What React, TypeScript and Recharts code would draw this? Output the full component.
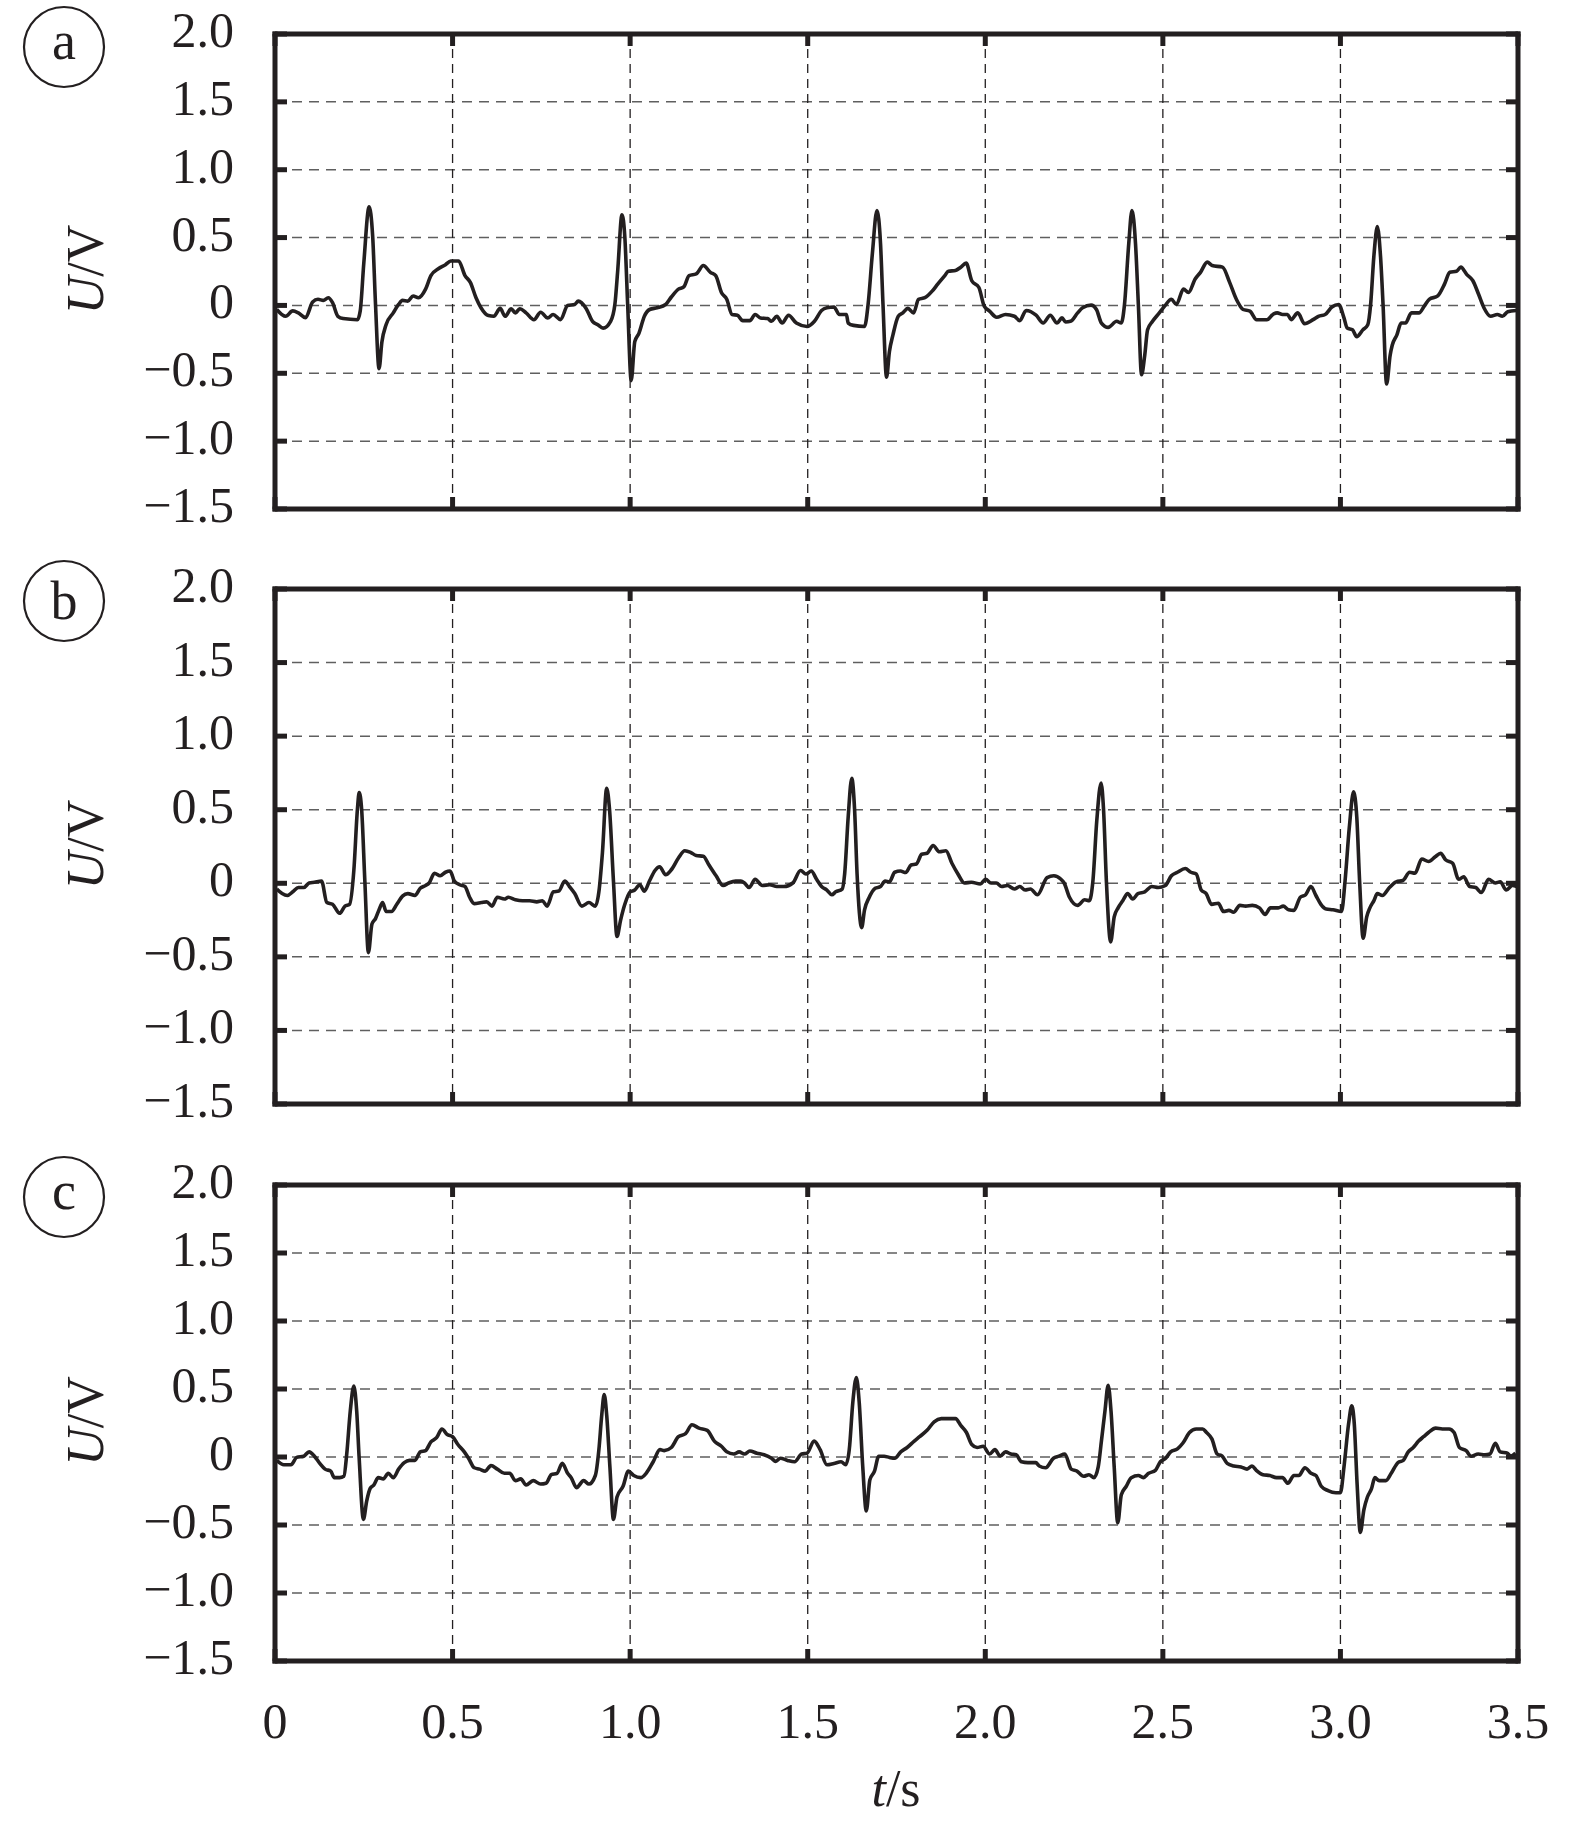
import React from 'react';
import { LineChart, Line, XAxis, YAxis, CartesianGrid } from 'recharts';

const xTicks = [0, 0.5, 1.0, 1.5, 2.0, 2.5, 3.0, 3.5];
const xTickLabels = ['0', '0.5', '1.0', '1.5', '2.0', '2.5', '3.0', '3.5'];
const yTicks = [-1.5, -1.0, -0.5, 0, 0.5, 1.0, 1.5, 2.0];
const yTickLabels = ['\u22121.5', '\u22121.0', '\u22120.5', '0', '0.5', '1.0', '1.5', '2.0'];
const panelLetters = ['a', 'b', 'c'];
const xAxisTitle = ['t', '/s'];
const yAxisTitle = ['U', '/V'];

const timeA = [0.005,0.03,0.05,0.066,0.086,0.106,0.121,0.136,0.15,0.162,0.177,0.192,0.232,0.24,0.25,0.265,0.275,0.283,0.293,0.301,0.313,0.333,0.348,0.359,0.374,0.389,0.404,0.424,0.439,0.46,0.48,0.495,0.517,0.535,0.55,0.566,0.58,0.601,0.616,0.634,0.648,0.665,0.677,0.689,0.707,0.729,0.748,0.768,0.783,0.804,0.824,0.844,0.854,0.876,0.894,0.909,0.924,0.945,0.957,0.965,0.977,0.985,0.993,1.003,1.013,1.025,1.04,1.055,1.076,1.1,1.116,1.136,1.151,1.166,1.186,1.206,1.226,1.241,1.257,1.272,1.287,1.302,1.317,1.337,1.352,1.367,1.387,1.398,1.413,1.428,1.446,1.468,1.498,1.519,1.539,1.554,1.574,1.589,1.609,1.614,1.629,1.66,1.67,1.682,1.695,1.705,1.712,1.722,1.73,1.74,1.755,1.768,1.782,1.798,1.812,1.83,1.851,1.866,1.886,1.896,1.916,1.931,1.946,1.962,1.982,1.997,2.012,2.032,2.057,2.082,2.097,2.115,2.143,2.163,2.183,2.202,2.216,2.226,2.24,2.26,2.274,2.298,2.313,2.327,2.346,2.37,2.383,2.392,2.404,2.413,2.423,2.431,2.44,2.449,2.457,2.471,2.49,2.505,2.524,2.538,2.558,2.572,2.591,2.606,2.625,2.639,2.668,2.688,2.707,2.726,2.745,2.764,2.793,2.812,2.822,2.837,2.851,2.861,2.88,2.899,2.923,2.938,2.957,2.976,2.995,3.01,3.019,3.034,3.046,3.063,3.077,3.085,3.094,3.104,3.113,3.12,3.13,3.14,3.146,3.159,3.171,3.183,3.2,3.221,3.236,3.25,3.274,3.293,3.308,3.327,3.339,3.356,3.373,3.389,3.404,3.423,3.442,3.456,3.471,3.495];
const voltA = [-0.03,-0.08,-0.04,-0.055,-0.09,0.025,0.045,0.037,0.057,0.02,-0.08,-0.097,-0.105,-0.04,0.31,0.726,0.51,0.01,-0.466,-0.27,-0.14,-0.055,0.007,0.037,0.032,0.07,0.057,0.12,0.22,0.27,0.3,0.327,0.327,0.22,0.17,0.057,-0.017,-0.075,-0.08,-0.022,-0.08,-0.025,-0.055,-0.025,-0.055,-0.105,-0.05,-0.092,-0.067,-0.105,0,0.007,0.032,-0.022,-0.117,-0.142,-0.167,-0.117,0.007,0.257,0.668,0.506,0.007,-0.554,-0.267,-0.204,-0.08,-0.03,-0.017,0.007,0.062,0.12,0.137,0.22,0.232,0.294,0.244,0.22,0.095,0.045,-0.067,-0.072,-0.112,-0.112,-0.067,-0.092,-0.097,-0.117,-0.08,-0.13,-0.072,-0.13,-0.155,-0.117,-0.037,-0.017,-0.012,-0.067,-0.067,-0.13,-0.147,-0.155,0.007,0.38,0.7,0.456,0.007,-0.529,-0.342,-0.217,-0.08,-0.055,-0.022,-0.055,0.045,0.057,0.107,0.157,0.22,0.252,0.257,0.282,0.312,0.182,0.132,-0.005,-0.042,-0.087,-0.067,-0.08,-0.112,-0.037,-0.072,-0.13,-0.072,-0.13,-0.092,-0.122,-0.117,-0.055,-0.017,0.002,-0.03,-0.13,-0.162,-0.117,-0.13,0.007,0.456,0.7,0.456,0.007,-0.511,-0.367,-0.18,-0.117,-0.055,-0.005,0.045,0.007,0.12,0.095,0.195,0.244,0.319,0.294,0.282,0.17,0.045,-0.03,-0.042,-0.105,-0.105,-0.062,-0.055,-0.067,-0.067,-0.105,-0.055,-0.135,-0.105,-0.08,-0.067,-0.012,0.007,-0.092,-0.167,-0.18,-0.23,-0.18,-0.142,0.007,0.357,0.581,0.357,0.007,-0.579,-0.367,-0.292,-0.217,-0.13,-0.13,-0.055,-0.055,-0.005,0.045,0.07,0.157,0.244,0.252,0.282,0.227,0.182,0.082,-0.017,-0.08,-0.067,-0.08,-0.047,-0.037];

const timeB = [0.005,0.02,0.035,0.05,0.066,0.081,0.096,0.111,0.131,0.146,0.162,0.182,0.197,0.21,0.222,0.232,0.237,0.244,0.253,0.263,0.273,0.283,0.293,0.303,0.313,0.328,0.343,0.359,0.374,0.394,0.409,0.424,0.434,0.449,0.465,0.48,0.493,0.505,0.52,0.535,0.548,0.561,0.581,0.596,0.611,0.626,0.646,0.657,0.677,0.697,0.717,0.737,0.753,0.766,0.784,0.799,0.816,0.829,0.844,0.864,0.884,0.902,0.912,0.922,0.934,0.942,0.953,0.963,0.973,0.985,1.0,1.013,1.027,1.04,1.055,1.07,1.083,1.1,1.116,1.136,1.154,1.171,1.186,1.206,1.222,1.242,1.262,1.277,1.297,1.312,1.322,1.335,1.352,1.372,1.393,1.413,1.433,1.458,1.48,1.495,1.51,1.525,1.539,1.554,1.568,1.579,1.597,1.604,1.614,1.624,1.632,1.639,1.652,1.66,1.672,1.69,1.705,1.718,1.73,1.745,1.761,1.776,1.791,1.806,1.821,1.836,1.853,1.871,1.889,1.906,1.923,1.941,1.961,1.986,2.001,2.016,2.031,2.046,2.062,2.082,2.097,2.112,2.127,2.147,2.174,2.193,2.213,2.222,2.237,2.26,2.28,2.293,2.303,2.314,2.326,2.333,2.341,2.353,2.363,2.374,2.387,2.401,2.415,2.43,2.449,2.469,2.487,2.507,2.524,2.541,2.563,2.579,2.594,2.608,2.622,2.637,2.656,2.671,2.686,2.699,2.717,2.733,2.752,2.772,2.788,2.803,2.825,2.839,2.854,2.869,2.887,2.902,2.917,2.931,2.945,2.96,2.979,3.003,3.013,3.025,3.037,3.046,3.054,3.064,3.074,3.083,3.094,3.104,3.118,3.138,3.157,3.176,3.195,3.21,3.229,3.248,3.267,3.282,3.296,3.316,3.333,3.347,3.364,3.381,3.397,3.417,3.436,3.45,3.467,3.484,3.497];
const voltB = [-0.039,-0.07,-0.083,-0.058,-0.029,-0.029,0.002,0.007,0.015,-0.131,-0.143,-0.204,-0.155,-0.143,0.087,0.5,0.617,0.5,0.015,-0.471,-0.277,-0.24,-0.18,-0.131,-0.192,-0.192,-0.143,-0.087,-0.07,-0.083,-0.034,-0.015,0.002,0.068,0.051,0.075,0.083,0.015,-0.01,-0.022,-0.095,-0.138,-0.131,-0.126,-0.155,-0.095,-0.107,-0.095,-0.112,-0.119,-0.119,-0.126,-0.119,-0.155,-0.058,-0.053,0.015,-0.022,-0.07,-0.155,-0.131,-0.155,-0.058,0.209,0.646,0.5,0.015,-0.362,-0.252,-0.143,-0.058,-0.046,-0.01,-0.053,0.019,0.087,0.112,0.058,0.092,0.172,0.221,0.209,0.189,0.184,0.124,0.051,-0.015,0.002,0.015,0.015,0.002,-0.029,0.027,-0.015,-0.01,-0.022,-0.022,0.002,0.087,0.063,0.083,0.027,-0.022,-0.046,-0.078,-0.058,-0.039,0.063,0.451,0.714,0.5,0.063,-0.301,-0.18,-0.102,-0.034,-0.022,0.015,0.01,0.075,0.083,0.073,0.124,0.131,0.197,0.204,0.257,0.214,0.221,0.136,0.063,0.002,0.007,-0.005,0.027,0.002,0.002,-0.022,-0.015,-0.039,-0.022,-0.046,-0.039,-0.078,0.039,0.051,0.027,0.002,-0.095,-0.15,-0.112,-0.119,0.015,0.427,0.682,0.5,0.015,-0.398,-0.228,-0.167,-0.119,-0.07,-0.107,-0.07,-0.058,-0.022,-0.029,-0.015,0.051,0.075,0.1,0.075,0.063,-0.046,-0.07,-0.143,-0.136,-0.192,-0.184,-0.197,-0.15,-0.155,-0.15,-0.167,-0.211,-0.167,-0.167,-0.155,-0.18,-0.184,-0.095,-0.078,-0.022,-0.083,-0.143,-0.175,-0.18,-0.192,0.015,0.379,0.621,0.451,0.015,-0.374,-0.228,-0.167,-0.119,-0.07,-0.083,-0.029,0.01,0.019,0.075,0.068,0.165,0.148,0.18,0.204,0.16,0.136,0.027,0.044,-0.022,-0.029,-0.063,0.027,0.002,0.01,-0.046,-0.015,-0.022];

const timeC = [0.005,0.025,0.045,0.061,0.081,0.096,0.111,0.126,0.141,0.157,0.167,0.182,0.194,0.202,0.212,0.222,0.23,0.237,0.249,0.258,0.268,0.278,0.291,0.305,0.319,0.333,0.348,0.364,0.379,0.394,0.409,0.424,0.439,0.455,0.47,0.485,0.5,0.515,0.533,0.545,0.561,0.576,0.592,0.608,0.626,0.646,0.661,0.677,0.692,0.707,0.727,0.748,0.763,0.778,0.794,0.809,0.824,0.834,0.849,0.869,0.884,0.902,0.912,0.92,0.927,0.934,0.943,0.953,0.963,0.98,0.995,1.01,1.03,1.045,1.065,1.084,1.096,1.116,1.136,1.156,1.174,1.194,1.217,1.237,1.257,1.272,1.292,1.307,1.322,1.337,1.357,1.377,1.398,1.41,1.423,1.443,1.463,1.483,1.498,1.518,1.535,1.554,1.574,1.594,1.607,1.617,1.627,1.637,1.645,1.655,1.665,1.675,1.688,1.7,1.715,1.73,1.745,1.762,1.78,1.8,1.815,1.836,1.856,1.876,1.896,1.916,1.932,1.947,1.962,1.977,1.994,2.012,2.027,2.042,2.057,2.072,2.087,2.102,2.12,2.142,2.152,2.17,2.192,2.207,2.224,2.242,2.258,2.277,2.292,2.306,2.318,2.327,2.337,2.346,2.354,2.363,2.373,2.383,2.397,2.411,2.431,2.445,2.46,2.479,2.493,2.508,2.522,2.541,2.556,2.575,2.594,2.612,2.623,2.638,2.653,2.667,2.681,2.7,2.72,2.737,2.751,2.763,2.782,2.801,2.82,2.837,2.852,2.869,2.883,2.9,2.917,2.931,2.946,2.965,2.987,3.0,3.01,3.023,3.032,3.039,3.047,3.056,3.066,3.076,3.087,3.097,3.109,3.128,3.143,3.162,3.177,3.191,3.205,3.22,3.234,3.248,3.268,3.287,3.306,3.32,3.335,3.354,3.368,3.388,3.407,3.421,3.436,3.45,3.47,3.479,3.493];
const voltC = [-0.025,-0.057,-0.057,-0.003,0.006,0.038,0.006,-0.047,-0.089,-0.104,-0.152,-0.152,-0.142,0.022,0.339,0.522,0.339,-0.009,-0.459,-0.326,-0.231,-0.206,-0.152,-0.161,-0.12,-0.152,-0.089,-0.041,-0.025,-0.025,0.038,0.047,0.111,0.142,0.206,0.165,0.149,0.092,0.038,-0.009,-0.079,-0.089,-0.104,-0.063,-0.089,-0.12,-0.12,-0.174,-0.161,-0.206,-0.174,-0.199,-0.193,-0.13,-0.12,-0.047,-0.12,-0.152,-0.225,-0.174,-0.199,-0.136,0.054,0.307,0.459,0.307,-0.073,-0.459,-0.294,-0.215,-0.104,-0.136,-0.152,-0.12,-0.035,0.054,0.047,0.07,0.149,0.171,0.237,0.212,0.196,0.117,0.079,0.038,0.022,0.038,0.022,0.044,0.028,0.016,-0.009,-0.032,-0.009,-0.025,-0.035,0.022,0.028,0.117,0.054,-0.057,-0.047,-0.035,-0.057,0.054,0.402,0.585,0.402,-0.073,-0.396,-0.168,-0.104,0.006,0.006,-0.003,-0.009,0.038,0.07,0.117,0.149,0.196,0.259,0.282,0.282,0.282,0.228,0.18,0.092,0.07,0.079,0.022,0.054,0.006,0.038,0.022,0.016,-0.035,-0.041,-0.041,-0.066,-0.079,-0.009,0.006,0.022,-0.089,-0.104,-0.142,-0.13,-0.152,-0.073,0.117,0.339,0.528,0.339,-0.073,-0.484,-0.278,-0.215,-0.152,-0.136,-0.152,-0.12,-0.098,-0.035,-0.009,0.038,0.06,0.101,0.18,0.206,0.206,0.18,0.133,0.022,0.006,-0.047,-0.066,-0.073,-0.089,-0.066,-0.098,-0.13,-0.136,-0.152,-0.152,-0.193,-0.136,-0.136,-0.079,-0.12,-0.136,-0.215,-0.247,-0.263,-0.263,-0.073,0.244,0.377,0.244,-0.199,-0.554,-0.389,-0.294,-0.237,-0.152,-0.174,-0.174,-0.12,-0.041,-0.025,0.038,0.07,0.117,0.149,0.18,0.212,0.206,0.206,0.18,0.07,0.047,0.006,0.022,0.016,0.022,0.101,0.038,0.028,0.006,0.028];

const INK = '#231f20';
const FONT = '"Liberation Serif", "DejaVu Serif", "Times New Roman", serif';
const W = 1575;
const PLOT_LEFT = 275;
const PLOT_RIGHT = 1518;
const TICK_LEN = 12;
const SIDE = 10;

type Pt = { t: number; v: number };
const toData = (ts: number[], vs: number[]): Pt[] => ts.map((t, i) => ({ t, v: vs[i] }));

const panels = [
  { top: 0, height: 548, plotTop: 34, plotBottom: 509, data: toData(timeA, voltA), showX: false, cy: 47 },
  { top: 548, height: 584, plotTop: 589, plotBottom: 1104, data: toData(timeB, voltB), showX: false, cy: 601 },
  { top: 1132, height: 699, plotTop: 1185, plotBottom: 1661, data: toData(timeC, voltC), showX: true, cy: 1197 },
];

const frameLine = { stroke: INK, strokeWidth: 5, strokeLinecap: 'square' as const };

function Panel({ p }: { p: typeof panels[number] }) {
  const mTop = p.plotTop - p.top - SIDE;
  const mBottom = p.top + p.height - p.plotBottom - SIDE;
  const leftTick = (props: any) => {
    const { x, y, payload } = props;
    const idx = yTicks.indexOf(payload.value);
    return (
      <g>
        <line x1={x} y1={y} x2={x + TICK_LEN} y2={y} stroke={INK} strokeWidth={5} />
        <text x={x - 41} y={y + 13} textAnchor="end" fontFamily={FONT} fontSize={50} fill={INK}>
          {yTickLabels[idx]}
        </text>
      </g>
    );
  };
  const rightTick = (props: any) => {
    const { x, y } = props;
    return <line x1={x} y1={y} x2={x - TICK_LEN} y2={y} stroke={INK} strokeWidth={5} />;
  };
  const topTick = (props: any) => {
    const { x, y } = props;
    return <line x1={x} y1={y} x2={x} y2={y + TICK_LEN} stroke={INK} strokeWidth={5} />;
  };
  const bottomTick = (props: any) => {
    const { x, y, payload } = props;
    const idx = xTicks.indexOf(payload.value);
    return (
      <g>
        <line x1={x} y1={y} x2={x} y2={y - TICK_LEN} stroke={INK} strokeWidth={5} />
        {p.showX ? (
          <text x={x} y={y + 77} textAnchor="middle" fontFamily={FONT} fontSize={50} fill={INK}>
            {xTickLabels[idx]}
          </text>
        ) : null}
      </g>
    );
  };
  return (
    <div style={{ position: 'absolute', left: 0, top: p.top, width: W, height: p.height }}>
      <LineChart
        width={W}
        height={p.height}
        data={p.data}
        margin={{ top: mTop, right: W - PLOT_RIGHT - SIDE, bottom: mBottom, left: 0 }}
      >
        <CartesianGrid vertical={false} stroke="#5f5f5f" strokeWidth={1.5} strokeDasharray="10 7" />
        <CartesianGrid horizontal={false} stroke={INK} strokeWidth={1.3} strokeDasharray="9 6" />
        <XAxis
          dataKey="t"
          type="number"
          domain={[0, 3.5]}
          ticks={xTicks}
          allowDataOverflow
          height={SIDE}
          tickSize={0}
          tickMargin={0}
          tickLine={false}
          axisLine={frameLine}
          tick={bottomTick}
          interval={0}
        />
        <XAxis
          xAxisId="top"
          orientation="top"
          dataKey="t"
          type="number"
          domain={[0, 3.5]}
          ticks={xTicks}
          allowDataOverflow
          height={SIDE}
          tickSize={0}
          tickMargin={0}
          tickLine={false}
          axisLine={frameLine}
          tick={topTick}
          interval={0}
        />
        <YAxis
          type="number"
          domain={[-1.5, 2]}
          ticks={yTicks}
          allowDataOverflow
          width={PLOT_LEFT}
          tickSize={0}
          tickMargin={0}
          tickLine={false}
          axisLine={frameLine}
          tick={leftTick}
          interval={0}
        />
        <YAxis
          yAxisId="right"
          orientation="right"
          type="number"
          domain={[-1.5, 2]}
          ticks={yTicks}
          allowDataOverflow
          width={SIDE}
          tickSize={0}
          tickMargin={0}
          tickLine={false}
          axisLine={frameLine}
          tick={rightTick}
          interval={0}
        />
        <Line
          dataKey="v"
          type="monotone"
          stroke={INK}
          strokeWidth={3.6}
          strokeLinejoin="round"
          dot={false}
          activeDot={false}
          isAnimationActive={false}
        />
      </LineChart>
    </div>
  );
}

export default function App() {
  return (
    <div style={{ position: 'absolute', left: 0, top: 0, width: W, height: 1831, background: '#fff' }}>
      {panels.map((p, i) => (
        <Panel key={i} p={p} />
      ))}
      <svg
        width={W}
        height={1831}
        style={{ position: 'absolute', left: 0, top: 0, pointerEvents: 'none' }}
      >
        {panels.map((p, i) => {
          const mid = (p.plotTop + p.plotBottom) / 2;
          return (
            <g key={i}>
              <circle cx={64} cy={p.cy} r={40} fill="none" stroke={INK} strokeWidth={2.2} />
              <text
                x={64}
                y={p.cy + (panelLetters[i] === 'b' ? 18 : 12)}
                textAnchor="middle"
                fontFamily={FONT}
                fontSize={54}
                fill={INK}
              >
                {panelLetters[i]}
              </text>
              <text
                transform={`translate(103, ${mid - 2}) rotate(-90)`}
                textAnchor="middle"
                fontFamily={FONT}
                fontSize={52}
                fill={INK}
              >
                <tspan fontStyle="italic">{yAxisTitle[0]}</tspan>
                <tspan>{yAxisTitle[1]}</tspan>
              </text>
            </g>
          );
        })}
        <text x={896} y={1806} textAnchor="middle" fontFamily={FONT} fontSize={52} fill={INK}>
          <tspan fontStyle="italic">{xAxisTitle[0]}</tspan>
          <tspan>{xAxisTitle[1]}</tspan>
        </text>
      </svg>
    </div>
  );
}
